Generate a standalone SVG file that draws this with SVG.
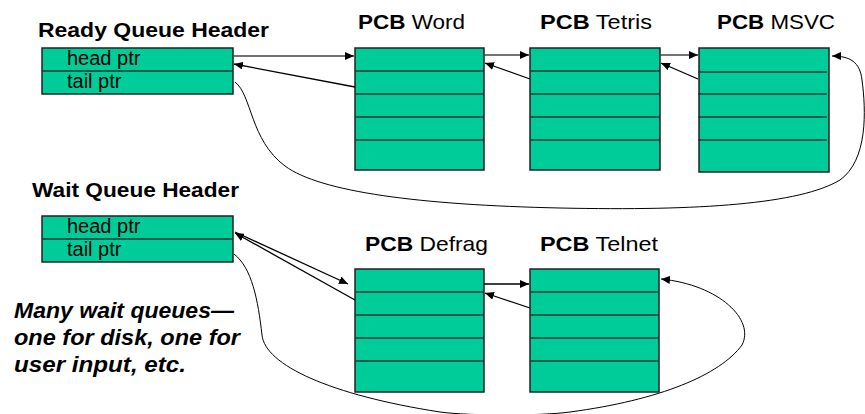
<svg xmlns="http://www.w3.org/2000/svg" width="865" height="414" viewBox="0 0 865 414">
<style>
.box{fill:#00CC99;stroke:#222;stroke-width:1.5}
.div{stroke:#1d3a32;stroke-width:1.5}
.title{font-family:"Liberation Sans",Arial,sans-serif;font-size:21px;fill:#000}
.b{font-weight:bold}
.ptr{font-family:"Liberation Sans",Arial,sans-serif;font-size:20px;fill:#000}
.note{font-family:"Liberation Sans",Arial,sans-serif;font-size:22px;font-weight:bold;font-style:italic;fill:#000}
.fw{fill:none;stroke:#444;stroke-width:1.6}
.bk{fill:none;stroke:#000;stroke-width:1.3}
.cv{fill:none;stroke:#000;stroke-width:1}
</style>
<defs>
<marker id="arr" markerUnits="userSpaceOnUse" markerWidth="9" markerHeight="8" refX="9" refY="4" orient="auto">
<path d="M0,0 L9,4 L0,8 z" fill="#000"/>
</marker>
</defs>

<g id="ready-header">
<text class="title b" x="38" y="36.5" textLength="231" lengthAdjust="spacingAndGlyphs">Ready Queue Header</text>
<rect class="box" x="42" y="48" width="191" height="46"/>
<line class="div" x1="42" y1="71" x2="233" y2="71"/>
<text class="ptr" x="67" y="65">head ptr</text>
<text class="ptr" x="67" y="87.5">tail ptr</text>
</g>

<g id="pcb-word">
<text class="title" x="358" y="28.5" textLength="107" lengthAdjust="spacingAndGlyphs"><tspan class="b">PCB</tspan> Word</text>
<rect class="box" x="355" y="48" width="129" height="122"/>
<path class="div" d="M355,71H484M355,94H484M355,117H484M355,140H484"/>
</g>

<g id="pcb-tetris">
<text class="title" x="540" y="28.5" textLength="112" lengthAdjust="spacingAndGlyphs"><tspan class="b">PCB</tspan> Tetris</text>
<rect class="box" x="530" y="48" width="130" height="122"/>
<path class="div" d="M530,71H660M530,94H660M530,117H660M530,140H660"/>
</g>

<g id="pcb-msvc">
<text class="title" x="717" y="28.5" textLength="118" lengthAdjust="spacingAndGlyphs"><tspan class="b">PCB</tspan> MSVC</text>
<rect class="box" x="699" y="48" width="130" height="124"/>
<path class="div" d="M698,72H827M698,94H827M698,117H827M698,140H827"/>
</g>

<g id="wait-header">
<text class="title b" x="32" y="196.5" textLength="207" lengthAdjust="spacingAndGlyphs">Wait Queue Header</text>
<rect class="box" x="42" y="216" width="191" height="46"/>
<line class="div" x1="42" y1="239" x2="233" y2="239"/>
<text class="ptr" x="67" y="233">head ptr</text>
<text class="ptr" x="67" y="255.5">tail ptr</text>
</g>

<g id="pcb-defrag">
<text class="title" x="365" y="250.7" textLength="123" lengthAdjust="spacingAndGlyphs"><tspan class="b">PCB</tspan> Defrag</text>
<rect class="box" x="355" y="269" width="129" height="123"/>
<path class="div" d="M355,292H484M355,315H484M355,338H484M355,361H484"/>
</g>

<g id="pcb-telnet">
<text class="title" x="540" y="250.7" textLength="118" lengthAdjust="spacingAndGlyphs"><tspan class="b">PCB</tspan> Telnet</text>
<rect class="box" x="530" y="269" width="129" height="123"/>
<path class="div" d="M530,292H659M530,315H659M530,338H659M530,361H659"/>
</g>

<g id="note">
<text class="note" x="14" y="317.5" textLength="220" lengthAdjust="spacingAndGlyphs">Many wait queues—</text>
<text class="note" x="14" y="345" textLength="226" lengthAdjust="spacingAndGlyphs">one for disk, one for</text>
<text class="note" x="14" y="372" textLength="172" lengthAdjust="spacingAndGlyphs">user input, etc.</text>
</g>

<g id="connectors">
<path class="fw" d="M233,56 L354,56" marker-end="url(#arr)"/>
<path class="bk" d="M355,87 L234,64" marker-end="url(#arr)"/>
<path class="fw" d="M484,55 L529,55" marker-end="url(#arr)"/>
<path class="bk" d="M530,79 L485,63" marker-end="url(#arr)"/>
<path class="fw" d="M660,55 L698,55" marker-end="url(#arr)"/>
<path class="bk" d="M698,79 L661,63" marker-end="url(#arr)"/>
<path class="cv" d="M235,82 C252,95 250,140 285,166 C320,192 420,205 560,208 C700,211 800,204 840,180 C868,160 866,110 862,80 C860,62 850,56 832,56" marker-end="url(#arr)"/>

<path class="bk" d="M235,232 L348,284" marker-end="url(#arr)"/>
<path class="bk" d="M355,300 L235,233" marker-end="url(#arr)"/>
<path class="bk" d="M484,284 L529,284" marker-end="url(#arr)"/>
<path class="bk" d="M530,308 L485,293" marker-end="url(#arr)"/>
<path class="cv" d="M234,254 C252,268 258,300 262,335 C265,365 330,395 440,412 C470,416 540,416 570,412 C660,400 720,375 742,345 C755,320 720,285 661,279" marker-end="url(#arr)"/>
</g>
</svg>
